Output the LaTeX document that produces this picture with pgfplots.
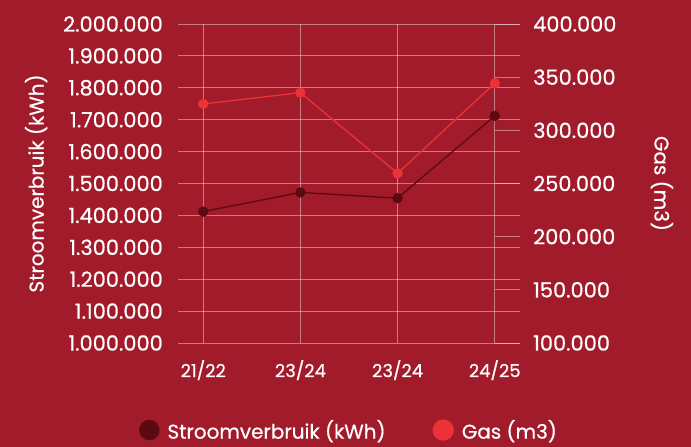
\documentclass[border=0pt]{standalone}
\usepackage{fontspec}
\setmainfont{Poppins}[FakeBold=0.6]
\usepackage{pgfplots}
\pgfplotsset{compat=1.18}
\definecolor{bg}{HTML}{A11B2B}
\definecolor{gasc}{HTML}{EC3237}
\definecolor{stroomc}{HTML}{5C0A12}
\begin{document}
\begin{tikzpicture}
\fill[bg] (0,0) rectangle (691bp,447bp);
\begin{axis}[
  at={(178bp,104bp)}, anchor=south west,
  width=342bp, height=319bp, scale only axis,
  xmin=-0.26, xmax=3.26, ymin=1000000, ymax=2000000,
  scaled y ticks=false,
  xtick={0,1,2,3}, xticklabels={21/22,23/24,23/24,24/25},
  ytick={1000000,1100000,1200000,1300000,1400000,1500000,1600000,1700000,1800000,1900000,2000000},
  yticklabels={1.000.000,1.100.000,1.200.000,1.300.000,1.400.000,1.500.000,1.600.000,1.700.000,1.800.000,1.900.000,2.000.000},
  grid=major, grid style={white, opacity=0.42, line width=0.8bp},
  axis line style={draw=none},
  major tick length=0pt,
  yticklabel style={text=white, font=\fontsize{21}{24}\selectfont, anchor=east, inner sep=0pt, xshift=-15bp},
  xticklabel style={text=white, font=\fontsize{18}{21}\selectfont, anchor=north, inner sep=0pt, yshift=-17bp},
  ylabel={Stroomverbruik (kWh)},
  ylabel style={text=white, font=\fontsize{20}{23}\selectfont, at={(axis description cs:-0.415,0.5)}, anchor=center},
  clip=false,
]
\addplot[stroomc, line width=1.3bp, mark=*, mark size=4.5bp] coordinates {
  (0,1412000) (1,1472000) (2,1454000) (3,1712000)};
\end{axis}
\begin{axis}[
  at={(178bp,104bp)}, anchor=south west,
  width=342bp, height=319bp, scale only axis,
  xmin=-0.26, xmax=3.26, ymin=100000, ymax=400000,
  scaled y ticks=false,
  hide x axis,
  axis y line*=right,
  axis line style={draw=none},
  ytick={100000,150000,200000,250000,300000,350000,400000},
  yticklabels={100.000,150.000,200.000,250.000,300.000,350.000,400.000},
  major tick length=25bp, tick align=inside,
  ytick style={white, opacity=0.42, line width=0.8bp},
  yticklabel style={text=white, font=\fontsize{21}{24}\selectfont, anchor=west, inner sep=0pt, xshift=13bp},
  ylabel={Gas (m3)},
  ylabel style={text=white, font=\fontsize{20}{23}\selectfont, at={(axis description cs:1.415,0.5)}, anchor=center, rotate=180},
  legend columns=2,
  legend style={draw=none, fill=none, text=white, font=\fontsize{20}{23}\selectfont, at={(0.5,-0.273)}, anchor=center,
    /tikz/every odd column/.append style={column sep=6bp},
    /tikz/every even column/.append style={column sep=45bp}},
  clip=false,
]
\addlegendimage{legend image code/.code={\fill[stroomc] (0bp,0bp) circle (10bp);}}
\addlegendentry{Stroomverbruik (kWh)}
\addplot[gasc, line width=1.3bp, mark=*, mark size=4.5bp, legend image code/.code={\fill[gasc] (0bp,0bp) circle (10bp);}] coordinates {
  (0,324800) (1,335400) (2,259600) (3,344200)};
\addlegendentry{Gas (m3)}
\end{axis}
\end{tikzpicture}
\end{document}
